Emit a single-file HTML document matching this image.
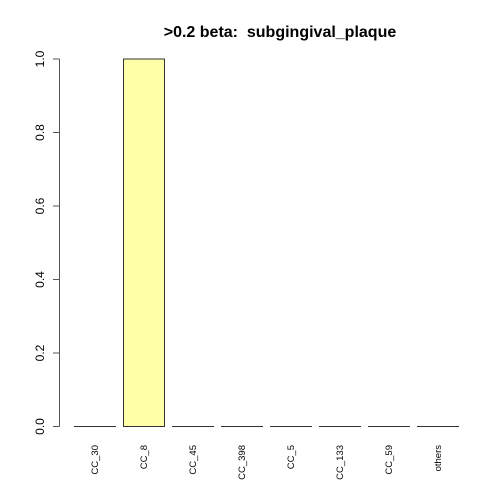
<!DOCTYPE html>
<html><head><meta charset="utf-8"><style>body{margin:0;background:#fff}svg{display:block;font-family:"Liberation Sans",sans-serif}</style></head>
<body>
<svg id="chart" width="504" height="504">
<text x="280" y="37" text-anchor="middle" font-weight="bold" font-size="16" style="white-space:pre">&gt;0.2 beta:  subgingival_plaque</text>
<g id="yaxis"></g>
<g id="bars"></g>
<g id="xlabels"></g>
</svg>
<script>
const categories = ["CC_30","CC_8","CC_45","CC_398","CC_5","CC_133","CC_59","others"];
const values = [0, 1, 0, 0, 0, 0, 0, 0];
const yTicks = [0, 0.2, 0.4, 0.6, 0.8, 1.0];
const yTickLabels = ["0.0","0.2","0.4","0.6","0.8","1.0"];
const NS = "http://www.w3.org/2000/svg";
const y = v => 426.5 - v * 367.5;
const x = i => 74 + i * 49;
function mk(tag, attrs, parent){const e=document.createElementNS(NS,tag);for(const k in attrs)e.setAttribute(k,attrs[k]);parent.appendChild(e);return e;}
const ya=document.getElementById('yaxis');
const axl=mk('line',{x1:59.5,x2:59.5,y1:y(yTicks[0]),y2:y(yTicks[yTicks.length-1]),stroke:'#555'},ya);


yTicks.forEach((t,i)=>{
  const tk=mk('line',{x1:53,x2:59.5,y1:y(t),y2:y(t),stroke:'#555'},ya);
  
  
  const tx=mk('text',{x:0,y:0,'font-size':12,'text-anchor':'middle',transform:`translate(44,${y(t)}) rotate(-90)`},ya);
  tx.textContent=yTickLabels[i];
  
  
});
const bg=document.getElementById('bars'), xl=document.getElementById('xlabels');
categories.forEach((c,i)=>{
  const v=values[i];
  const top=y(v);
  const r=mk('rect',{x:x(i)+0.5,y:top,width:41,height:Math.max(y(0)-top,0.01),fill:v>0?'#ffffa8':'none',stroke:'#333','stroke-width':1},bg);
  
  
  const t=mk('text',{x:0,y:0,'font-size':9.5,'text-anchor':'end',transform:`translate(${x(i)+24},445) rotate(-90)`},xl);
  t.textContent=c;
  
  
});
</script>
</body></html>
